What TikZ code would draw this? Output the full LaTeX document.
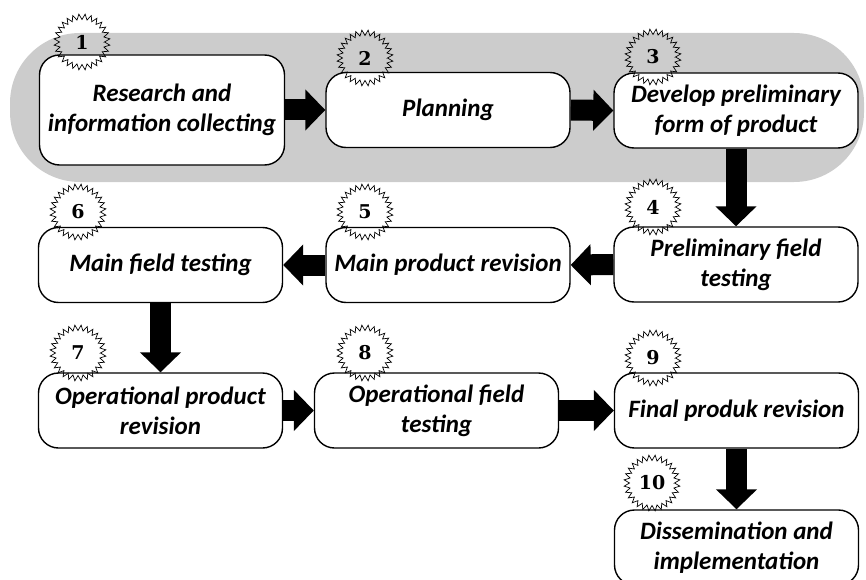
\documentclass[tikz,border=0pt]{standalone}
\usepackage{fontspec}
\newfontfamily\carlito{Carlito}
\newfontfamily\badgefont{DejaVu Serif}
\usetikzlibrary{arrows.meta}
\tikzset{
  stepbox/.style={draw, line width=1.4pt, rounded corners=20pt, fill=white,
    align=center, inner sep=0pt, minimum width=244pt, minimum height=75pt,
    font=\carlito\bfseries\itshape\fontsize{25}{30}\selectfont},
  blockarrow/.style={line width=21pt, -{Triangle[length=20pt,width=40pt]}},
  badgeline/.style={line width=0.7pt},
  badgenum/.style={inner sep=0pt, font=\badgefont\bfseries\fontsize{19}{19}\selectfont}
}
\begin{document}
\begin{tikzpicture}[x=1pt,y=-1pt]
\useasboundingbox (0,0) rectangle (866,580);
% gray band
\fill[gray!40, rounded corners=70pt] (10,33) rectangle (864,182);
% boxes
\node[stepbox, minimum width=245pt, minimum height=110pt] (b1) at (162,110) {Research and\\information collecting};
\node[stepbox] (b2) at (448,110) {Planning};
\node[stepbox] (b3) at (736,110.5) {Develop preliminary\\form of product};
\node[stepbox] (b4) at (736,264.5) {Preliminary field\\testing};
\node[stepbox] (b5) at (448,265) {Main product revision};
\node[stepbox] (b6) at (160.5,265) {Main field testing};
\node[stepbox] (b7) at (160.5,410.5) {Operational product\\revision};
\node[stepbox] (b8) at (436.5,410.5) {Operational field\\testing};
\node[stepbox] (b9) at (736.5,410.5) {Final produk revision};
\node[stepbox] (b10) at (736.5,547.5) {Dissemination and\\implementation};
% arrows
\draw[blockarrow] (b1.east) -- (b2.west);
\draw[blockarrow] (b2.east) -- (b3.west);
\draw[blockarrow] (b3.south) -- (b4.north);
\draw[blockarrow] (b4.west) -- (b5.east);
\draw[blockarrow] (b5.west) -- (b6.east);
\draw[blockarrow] (b6.south) -- (b7.north);
\draw[blockarrow] (b7.east) -- (b8.west);
\draw[blockarrow] (b8.east) -- (b9.west);
\draw[blockarrow] (b9.south) -- (b10.north);
% badges
\foreach \x/\y/\n in {82/42/1, 365/58/2, 653/57/3, 653/207/4, 365/212/5, 78/212/6, 78/353/7, 365/353/8, 653/358/9, 652/483/10}{
  \draw[badgeline, shift={(\x,\y)}] plot[samples=57, domain=0:360, variable=\t] ({\t}:{22.5+5.5*mod(round(\t/6.4285714),2)}) -- cycle;
  \node[badgenum] (n\n) at (\x,\y) {\n};
}
\end{tikzpicture}
\end{document}
